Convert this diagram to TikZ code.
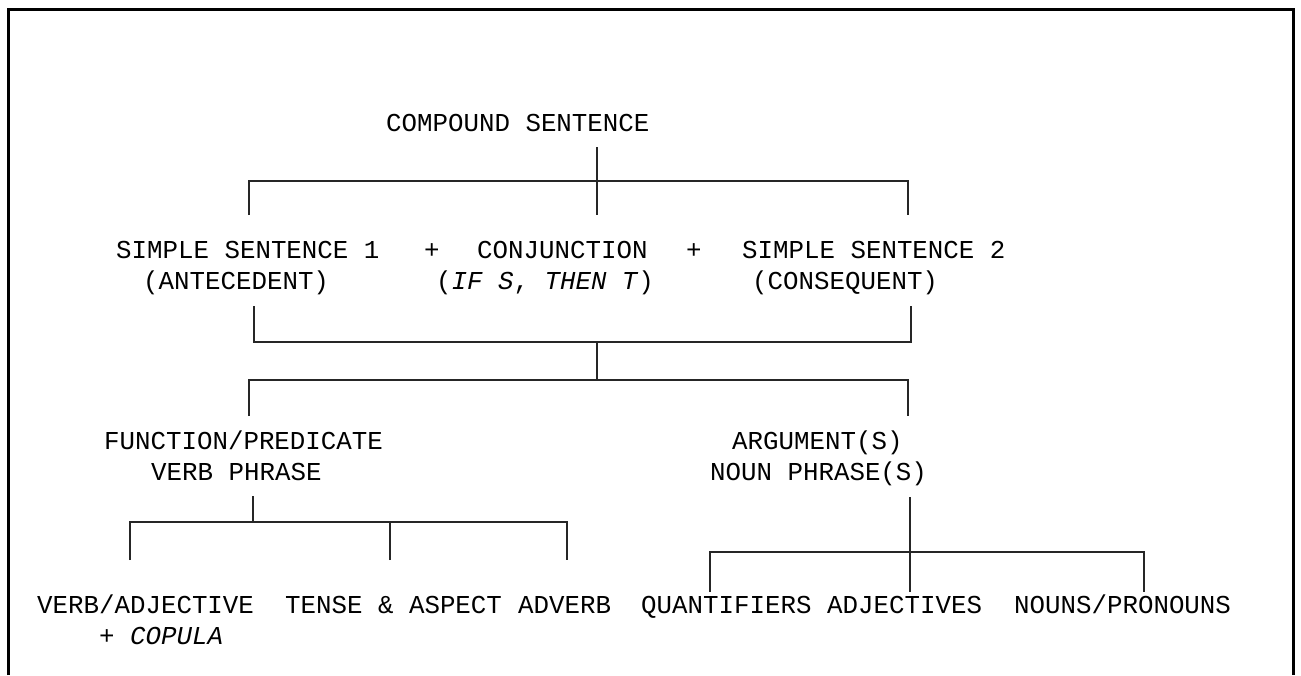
\documentclass[tikz,border=0pt]{standalone}
\usepackage{fontspec}
\setmainfont{Liberation Mono}
\begin{document}
\begin{tikzpicture}
    [x=1pt, y=-1pt,
    word/.style={anchor=base west, inner sep=0pt, font=\fontsize{25.8}{31}\selectfont},
    link/.style={line width=1.1pt, black!85},
    frame/.style={line width=3pt}]
    \useasboundingbox (0,0) rectangle (1301,675);
    \draw[frame] (8,675) -- (8,9) -- (1293,9) -- (1293,675);
    % \draw[help lines] (0,0) grid[step=50] (1301,675);
    \node[word] (top) at (386,131) {COMPOUND SENTENCE};
    %
    \node[word] (sone) at (116,258) {SIMPLE SENTENCE 1};
    \node[word] (plusa) at (424,258) {+};
    \node[word] (conj) at (477,258) {CONJUNCTION};
    \node[word] (plusb) at (686,258) {+};
    \node[word] (stwo) at (742,258) {SIMPLE SENTENCE 2};
    \node[word] (ante) at (143,289) {(ANTECEDENT)};
    \node[word] (ifthen) at (436,289) {(\textit{IF S}, \textit{THEN T})};
    \node[word] (cons) at (752,289) {(CONSEQUENT)};
    %
    \node[word] (func) at (104,449) {FUNCTION/PREDICATE};
    \node[word] (vp) at (151,480) {VERB PHRASE};
    \node[word] (args) at (732,449) {ARGUMENT(S)};
    \node[word] (np) at (710,480) {NOUN PHRASE(S)};
    %
    \node[word] (verbadj) at (37,613) {VERB/ADJECTIVE};
    \node[word] (copula) at (99,644) {+ \textit{COPULA}};
    \node[word] (tense) at (285,613) {TENSE \& ASPECT};
    \node[word] (adverb) at (518,613) {ADVERB};
    \node[word] (quant) at (641,613) {QUANTIFIERS};
    \node[word] (adjs) at (827,613) {ADJECTIVES};
    \node[word] (nouns) at (1014,613) {NOUNS/PRONOUNS};
    %
    \coordinate (t0) at (597,147);
    \coordinate (bar1) at (597,181);
    \coordinate (t1) at (597,215);
    \coordinate (a1) at (249,215);
    \coordinate (a2) at (908,215);
    \coordinate (b1) at (254,306);
    \coordinate (b2) at (911,306);
    \coordinate (bar2) at (597,342);
    \coordinate (bar3) at (597,380);
    \coordinate (c1) at (249,416);
    \coordinate (c2) at (908,416);
    \coordinate (d0) at (253,496);
    \coordinate (bar4) at (253,522);
    \coordinate (d1) at (130,560);
    \coordinate (d2) at (390,560);
    \coordinate (d3) at (567,560);
    \coordinate (e0) at (910,497);
    \coordinate (bar5) at (910,552);
    \coordinate (e4) at (910,592);
    \coordinate (e1) at (710,592);
    \coordinate (e3) at (1144,592);
    %
    \draw[link] (t0) -- (t1);
    \draw[link] (a1) |- (bar1) -| (a2);
    \draw[link] (b1) |- (bar2) -| (b2);
    \draw[link] (bar2) -- (bar3);
    \draw[link] (c1) |- (bar3) -| (c2);
    \draw[link] (d0) -- (bar4);
    \draw[link] (d1) |- (bar4) -| (d3);
    \draw[link] (d2) -- (d2 |- bar4);
    \draw[link] (e0) -- (e4);
    \draw[link] (e1) |- (bar5) -| (e3);
\end{tikzpicture}
\end{document}
